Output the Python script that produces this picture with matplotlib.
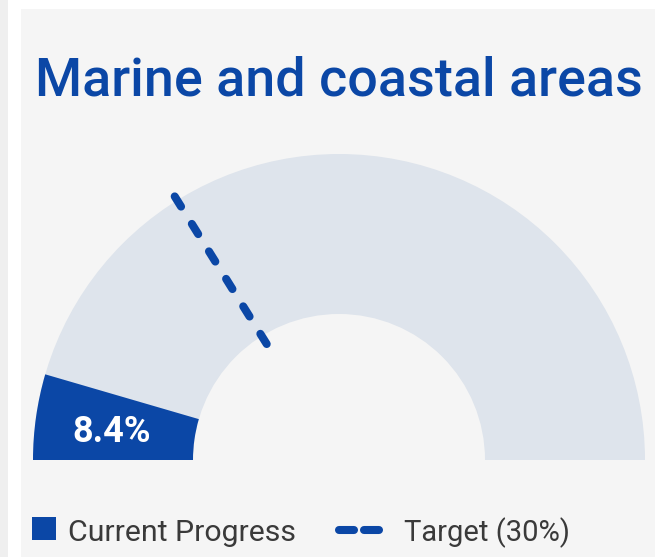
import numpy as np
import matplotlib
matplotlib.use("Agg")
import matplotlib.pyplot as plt
from matplotlib.patches import Wedge, Rectangle

# data
title = "Marine and coastal areas"
progress = 8.4
target = 30
progress_label = "Current Progress"
target_label = "Target (30%)"
gauge_max = 93  # value at the right end of the arc, as drawn in the picture

blue = "#0b47a6"
track = "#dee4ec"
panel = "#f5f5f5"
W, H = 660, 557

plt.rcParams["font.family"] = ["Roboto", "DejaVu Sans"]

fig = plt.figure(figsize=(W / 100, H / 100), dpi=100, facecolor="white")
ax = fig.add_axes([0, 0, 1, 1])
ax.set_xlim(0, W)
ax.set_ylim(0, H)
ax.axis("off")

def py(y):
    # pixel row -> data y
    return H - y

# background panel
ax.add_patch(Rectangle((0, 0), 8, H, color="#efefef", lw=0))
ax.add_patch(Rectangle((21, 0), 634, H - 9, color=panel, lw=0))

# gauge
cx, cy = 339, py(460)
R, r = 306, 146

def ang(v):
    return 180 - 180 * v / gauge_max

ax.add_patch(Wedge((cx, cy), R, 0, 180, width=R - r, color=track, lw=0))
ax.add_patch(Wedge((cx, cy), R, ang(progress), 180, width=R - r, color=blue, lw=0))

# target marker
t = np.deg2rad(ang(target))
rr = np.array([1.015 * R, 0.446 * R])
ax.plot(cx + rr * np.cos(t), cy + rr * np.sin(t), color=blue, lw=5.8,
        dashes=(1.49, 2.53), dash_capstyle="round", solid_capstyle="round")

# texts
ax.text(339, py(95), title, ha="center", va="baseline", color=blue,
        fontsize=38.8, fontweight="medium")
ax.text(112, py(442), f"{progress}%", ha="center", va="baseline",
        color="white", fontsize=26, fontweight="bold")

# legend
ax.add_patch(Rectangle((32, py(540)), 24, 23, color=blue, lw=0))
ax.text(68, py(541), progress_label, ha="left", va="baseline",
        color="#3a3a3a", fontsize=21.8)
for x0, x1 in [(339, 354), (364, 379)]:
    ax.plot([x0, x1], [py(530), py(530)], color=blue, lw=5.8,
            solid_capstyle="round")
ax.text(404, py(541), target_label, ha="left", va="baseline",
        color="#3a3a3a", fontsize=21)

fig.savefig("out.png", dpi=100, facecolor="white")
